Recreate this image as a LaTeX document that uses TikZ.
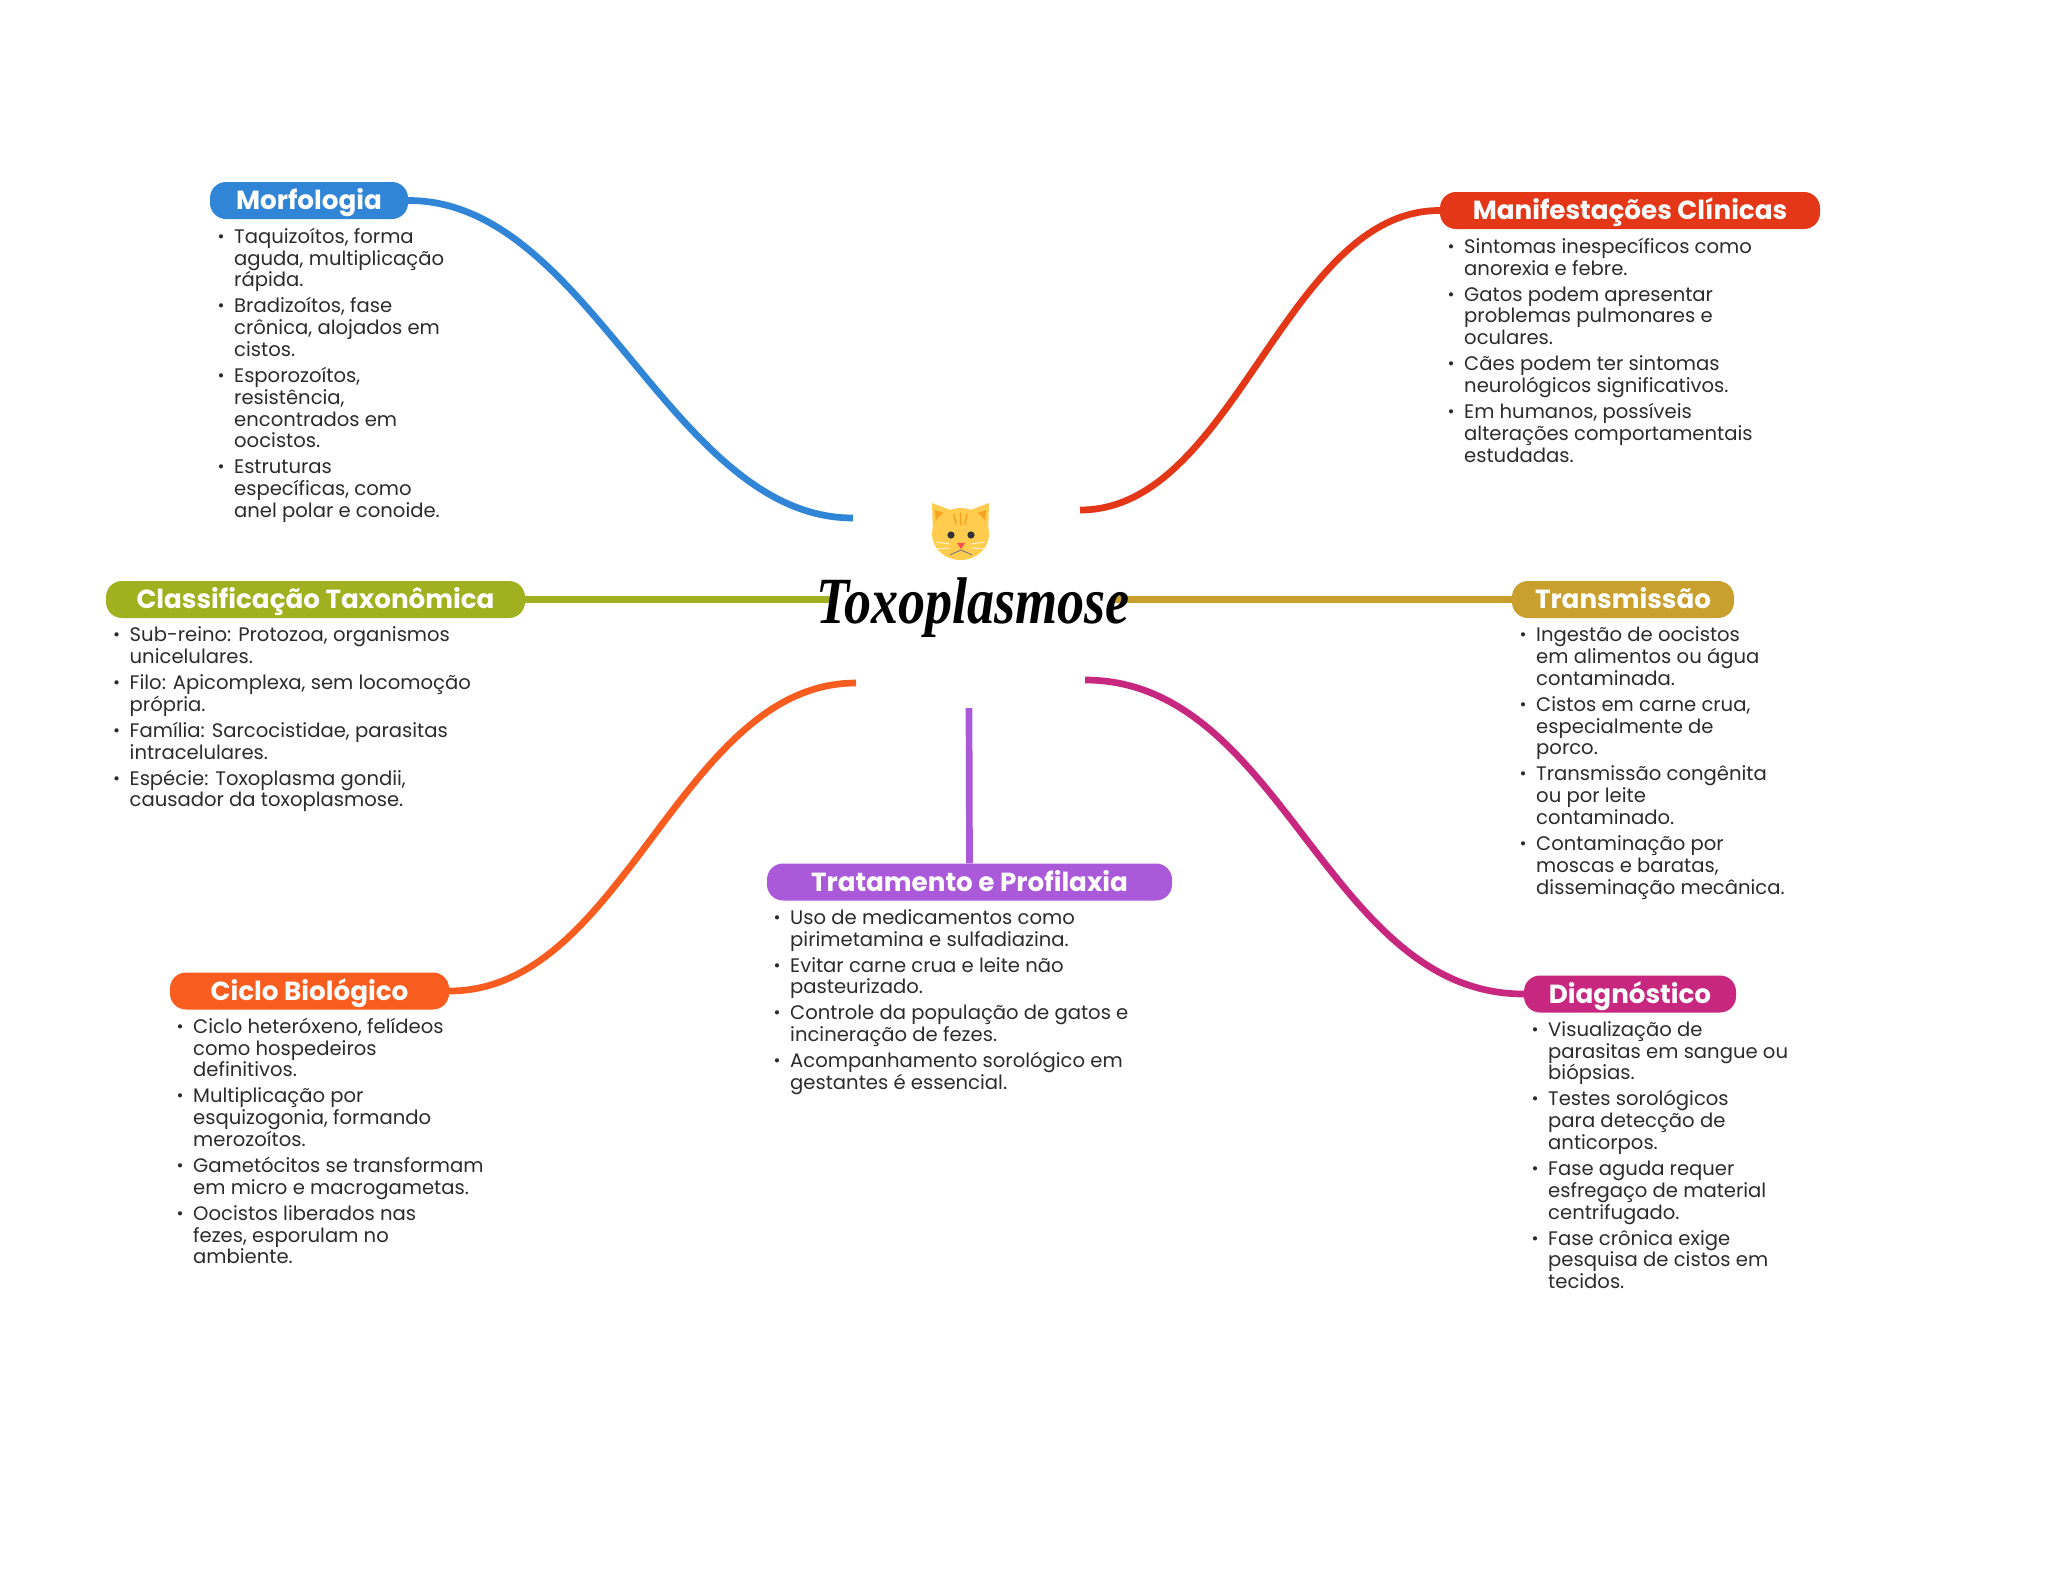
\documentclass[tikz,border=0pt]{standalone}
\usepackage{fontspec}
\setmainfont{Poppins}
\newfontfamily\titlefam{Liberation Serif}
\definecolor{cblue}{HTML}{3085D6}
\definecolor{cred}{HTML}{E33717}
\definecolor{colive}{HTML}{A0B01E}
\definecolor{cgold}{HTML}{C9A02E}
\definecolor{cpurple}{HTML}{AA5AD9}
\definecolor{corange}{HTML}{F85C1E}
\definecolor{cmag}{HTML}{C7277F}
\definecolor{cbody}{HTML}{2B2B2B}
\definecolor{catface}{HTML}{FFCC4D}
\definecolor{catear}{HTML}{F4900C}
\newcommand\bul{\rule{0pt}{16pt}\llap{\raisebox{1pt}{\fontsize{17}{17}\selectfont •}\hspace{9.5pt}}}
\newcommand\gap{\\[4.2pt]}
\tikzset{
  pill/.style={fill=#1,text=white,rounded corners=16pt,minimum height=37pt,inner sep=0pt,
    text height=24pt,text depth=6pt,font=\fontsize{26.2}{30}\selectfont\bfseries},
  body/.style={anchor=north west,inner sep=0pt,align=left,text=cbody,
    font=\fontsize{19.6}{21.8}\selectfont},
  link/.style={line width=6.7pt,draw=#1},
}
\begin{document}
\begin{tikzpicture}[x=1pt,y=-1pt]
\useasboundingbox (0,0) rectangle (2048,1569);
% free ends of the connectors
\coordinate (cMorf) at (853,518);
\coordinate (cMan) at (1080,510);
\coordinate (cClass) at (830,599.5);
\coordinate (cTrans) at (1111,599.5);
\coordinate (cCiclo) at (856,683);
\coordinate (cDiag) at (1085,680);
\coordinate (cTrat) at (969,708);
% pills
\node[pill=cblue,minimum width=198pt] (morf) at (309,200.5) {Morfologia};
\node[pill=cred,minimum width=380pt] (man) at (1630,210.5) {Manifestações Clínicas};
\node[pill=colive,minimum width=419pt] (class) at (315.5,599.5) {Classificação Taxonômica};
\node[pill=cgold,minimum width=222pt] (trans) at (1623,599.5) {Transmissão};
\node[pill=cpurple,minimum width=405pt] (trat) at (969.5,882) {Tratamento e Profilaxia};
\node[pill=corange,minimum width=279pt] (ciclo) at (309.5,991) {Ciclo Biológico};
\node[pill=cmag,minimum width=212pt] (diag) at (1630,994) {Diagnóstico};
% connectors
\draw[link=cblue] (morf.east) .. controls (590,200) and (671,518) .. (cMorf);
\draw[link=cred] (man.west) .. controls (1285,210) and (1235,510) .. (cMan);
\draw[link=colive] (class.east) -- (cClass);
\draw[link=cgold] (trans.west) -- (cTrans);
\draw[link=corange] (ciclo.east) .. controls (625,991) and (680,683) .. (cCiclo);
\draw[link=cmag] (diag.west) .. controls (1326,994) and (1283,680) .. (cDiag);
\draw[link=cpurple] (trat.north) -- (cTrat);
% bodies
\node[body] (bMorf) at (234,227) {\bul Taquizoítos, forma\\aguda, multiplicação\\rápida.\gap
\bul Bradizoítos, fase\\crônica, alojados em\\cistos.\gap
\bul Esporozoítos,\\resistência,\\encontrados em\\oocistos.\gap
\bul Estruturas\\específicas, como\\anel polar e conoide.};
\node[body] (bMan) at (1464,237) {\bul Sintomas inespecíficos como\\anorexia e febre.\gap
\bul Gatos podem apresentar\\problemas pulmonares e\\oculares.\gap
\bul Cães podem ter sintomas\\neurológicos significativos.\gap
\bul Em humanos, possíveis\\alterações comportamentais\\estudadas.};
\node[body] (bClass) at (129.5,625.5) {\bul Sub-reino: Protozoa, organismos\\unicelulares.\gap
\bul Filo: Apicomplexa, sem locomoção\\própria.\gap
\bul Família: Sarcocistidae, parasitas\\intracelulares.\gap
\bul Espécie: Toxoplasma gondii,\\causador da toxoplasmose.};
\node[body] (bTrans) at (1536,625.5) {\bul Ingestão de oocistos\\em alimentos ou água\\contaminada.\gap
\bul Cistos em carne crua,\\especialmente de\\porco.\gap
\bul Transmissão congênita\\ou por leite\\contaminado.\gap
\bul Contaminação por\\moscas e baratas,\\disseminação mecânica.};
\node[body] (bTrat) at (790,908) {\bul Uso de medicamentos como\\pirimetamina e sulfadiazina.\gap
\bul Evitar carne crua e leite não\\pasteurizado.\gap
\bul Controle da população de gatos e\\incineração de fezes.\gap
\bul Acompanhamento sorológico em\\gestantes é essencial.};
\node[body] (bCiclo) at (193,1017) {\bul Ciclo heteróxeno, felídeos\\como hospedeiros\\definitivos.\gap
\bul Multiplicação por\\esquizogonia, formando\\merozoítos.\gap
\bul Gametócitos se transformam\\em micro e macrogametas.\gap
\bul Oocistos liberados nas\\fezes, esporulam no\\ambiente.};
\node[body] (bDiag) at (1548,1020) {\bul Visualização de\\parasitas em sangue ou\\biópsias.\gap
\bul Testes sorológicos\\para detecção de\\anticorpos.\gap
\bul Fase aguda requer\\esfregaço de material\\centrifugado.\gap
\bul Fase crônica exige\\pesquisa de cistos em\\tecidos.};
% title
\node[inner sep=0pt,anchor=base,xscale=.82,transform shape,font=\fontsize{66}{66}\selectfont\titlefam\bfseries\itshape] (title) at (973,623) {Toxoplasmose};
% cat
\fill[catface] (932,503) -- (933,535) -- (956,512) -- cycle;
\fill[catface] (989,503) -- (988,535) -- (965,512) -- cycle;
\fill[catear!70!catface] (935,510) -- (936,524) -- (947,514) -- cycle;
\fill[catear!70!catface] (986,510) -- (985,524) -- (974,514) -- cycle;
\fill[catface] (960.5,534) ellipse [x radius=28.5pt,y radius=26pt];
\draw[catear!70!catface,line width=1.5pt,line cap=round] (954,514)--(956,524) (960.5,513)--(960.5,525) (967,514)--(965,524);
\fill[black!80] (951,535) circle (3.6pt) (971,535) circle (3.6pt);
\fill[red!60!pink] (957,543) -- (965,543) -- (961,549) -- cycle;
\draw[white!70!catface,line width=1pt] (936,542)--(950,544) (935,549)--(950,548) (985,542)--(971,544) (986,549)--(971,548);
\draw[black!50,line width=1pt] (950,555) .. controls (955,552) and (958,552) .. (961,550) .. controls (964,552) and (967,552) .. (972,555);
\end{tikzpicture}
\end{document}
